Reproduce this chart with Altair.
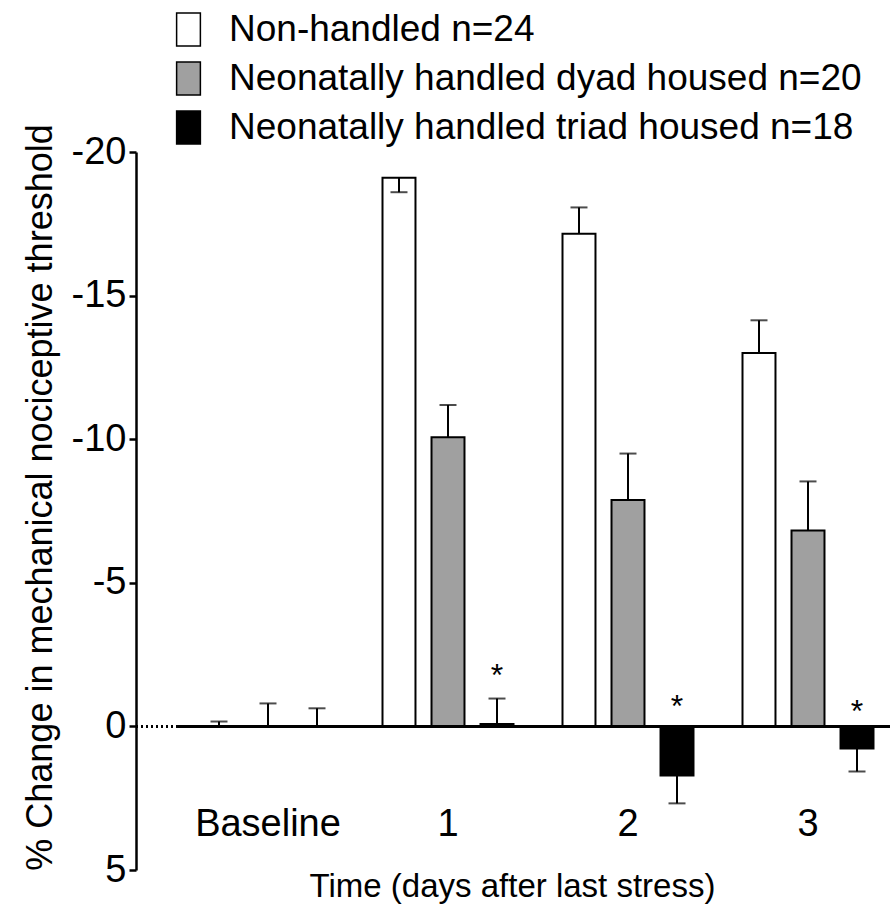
import altair as alt
import pandas as pd

groups = ["Baseline", "1", "2", "3"]
series = [
    "Non-handled n=24",
    "Neonatally handled dyad housed n=20",
    "Neonatally handled triad housed n=18",
]
colors = ["#ffffff", "#a0a0a0", "#000000"]

nonhandled = [0.0, -19.1, -17.15, -13.0]
nonhandled_tip = [-0.17, -18.6, -18.07, -14.14]
dyad = [0.0, -10.07, -7.88, -6.82]
dyad_tip = [-0.8, -11.19, -9.5, -8.53]
triad = [0.0, -0.08, 1.71, 0.77]
triad_tip = [-0.63, -0.97, 2.68, 1.57]

star_groups = ["1", "2", "3"]
star_pos = [-1.95, -0.87, -0.70]

y_ticks = [-20, -15, -10, -5, 0, 5]

rows = []
for s, vals, tips in zip(series, [nonhandled, dyad, triad], [nonhandled_tip, dyad_tip, triad_tip]):
    for g, v, t in zip(groups, vals, tips):
        rows.append({"group": g, "series": s, "value": v, "tip": t})
df = pd.DataFrame(rows)

stars = pd.DataFrame({"group": star_groups, "series": [series[2]] * 3, "pos": star_pos, "label": ["*"] * 3})

FONT = "Liberation Sans"

x_enc = alt.X("group:N", sort=groups, scale=alt.Scale(range=[0, 720], paddingInner=0, paddingOuter=0),
              axis=alt.Axis(title="Time (days after last stress)", labelAngle=0, domain=False, ticks=False,
                            tickSize=0, offset=-65, labelPadding=0, labelFontSize=38, titleFontSize=33,
                            titlePadding=27, titleX=334, labelFont=FONT, titleFont=FONT,
                            labelColor="black", titleColor="black", titleFontWeight="normal"))
xo_enc = alt.XOffset("series:N", sort=series, scale=alt.Scale(paddingInner=0.327, paddingOuter=0.5))
y_scale = alt.Scale(domain=[-20, 5], reverse=True, nice=False, zero=False)

bars = alt.Chart(df).mark_bar(stroke="black", strokeWidth=2).encode(
    x=x_enc,
    xOffset=xo_enc,
    y=alt.Y("value:Q", scale=y_scale,
            axis=alt.Axis(title="% Change in mechanical nociceptive threshold", values=y_ticks,
                          labelExpr="datum.value + ''", offset=42, tickSize=7, labelPadding=3,
                          labelFontSize=38, titleFontSize=36, titlePadding=12, titleY=345,
                          labelFont=FONT, titleFont=FONT, labelColor="black", titleColor="black",
                          titleFontWeight="normal", grid=False, domainColor="black",
                          domainWidth=2.5, tickColor="black", tickWidth=2.5)),
    y2=alt.Y2(datum=0),
    fill=alt.Fill("series:N", sort=series, scale=alt.Scale(domain=series, range=colors),
                  legend=alt.Legend(title=None, orient="none", legendX=-8, legendY=-141,
                                    symbolType="M-0.72,-1H0.72V1H-0.72Z", symbolSize=1089,
                                    symbolStrokeColor="black", symbolStrokeWidth=1.5,
                                    labelFontSize=37, labelFont=FONT, labelColor="black",
                                    rowPadding=10, labelOffset=22, padding=0, labelLimit=800)),
)

err_line = alt.Chart(df).mark_rule(color="black", strokeWidth=2).encode(
    x=alt.X("group:N", sort=groups), xOffset=alt.XOffset("series:N", sort=series),
    y="value:Q", y2="tip:Q",
)
err_cap = alt.Chart(df).mark_tick(color="black", thickness=2, size=17, orient="horizontal").encode(
    x=alt.X("group:N", sort=groups), xOffset=alt.XOffset("series:N", sort=series),
    y="tip:Q",
)

zero_line = alt.Chart(df).mark_rule(color="black", strokeWidth=3).encode(y=alt.datum(0))
dotted = alt.Chart(df).mark_rule(color="black", strokeWidth=2, strokeDash=[2, 3]).encode(
    x=alt.value(-42), x2=alt.value(0), y=alt.datum(0)
)

star_text = alt.Chart(stars).mark_text(fontSize=32, font=FONT, baseline="middle", color="black", dy=6).encode(
    x=alt.X("group:N", sort=groups), xOffset=alt.XOffset("series:N", sort=series),
    y="pos:Q", text="label:N",
)

chart = alt.layer(bars, err_line, err_cap, zero_line, dotted, star_text).properties(
    width=712, height=718,
    autosize=alt.AutoSizeParams(type="none"),
    padding={"left": 178, "top": 152, "right": 0, "bottom": 38},
).configure(background="white").configure_view(stroke="transparent", strokeWidth=0)

chart.save("out.html", embed_options={"renderer": "svg", "actions": False})
